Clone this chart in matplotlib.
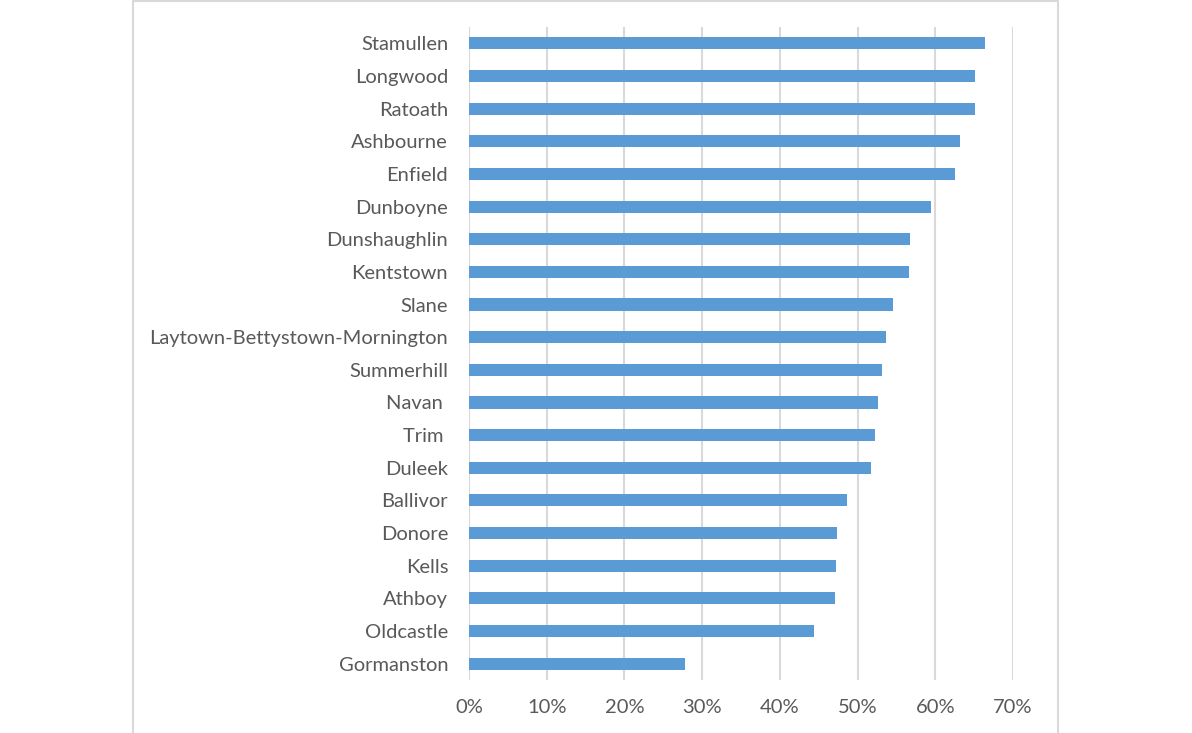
import matplotlib.pyplot as plt
from matplotlib.patches import Rectangle
from matplotlib.ticker import FuncFormatter

# towns, top to bottom as shown in the chart
towns = ['Stamullen', 'Longwood', 'Ratoath', 'Ashbourne', 'Enfield', 'Dunboyne',
         'Dunshaughlin', 'Kentstown', 'Slane', 'Laytown-Bettystown-Mornington',
         'Summerhill', 'Navan ', 'Trim ', 'Duleek', 'Ballivor', 'Donore',
         'Kells', 'Athboy', 'Oldcastle', 'Gormanston']
share = [0.664, 0.651, 0.651, 0.632, 0.625, 0.594,
         0.567, 0.566, 0.546, 0.537,
         0.531, 0.526, 0.522, 0.517, 0.486, 0.474,
         0.472, 0.471, 0.444, 0.278]

plt.rcParams['font.family'] = ['Lato', 'DejaVu Sans']
text_col = '#595959'
grid_col = '#d9d9d9'

fig = plt.figure(figsize=(11.92, 7.33), dpi=100)
ax = fig.add_axes([469 / 1192, 1 - 680 / 733, (1013 - 469) / 1192, (680 - 27) / 733])

# outer chart border (runs off the bottom of the image)
fig.patches.append(Rectangle((133 / 1192, -0.05), (1058 - 133) / 1192, 1.05 - 1 / 733,
                             transform=fig.transFigure, fill=False,
                             edgecolor=grid_col, linewidth=1.5))

pos = list(range(len(towns)))[::-1]
ax.barh(pos, share, height=0.37, color='#5b9bd5', zorder=3)

ax.set_xlim(0, 0.7)
ax.set_ylim(-0.5, len(towns) - 0.5)
ax.set_xticks([i / 10 for i in range(8)])
ax.xaxis.set_major_formatter(FuncFormatter(lambda v, p: f'{v * 100:.0f}%'))
ax.set_yticks(pos)
ax.set_yticklabels(towns)

ax.grid(axis='x', color=grid_col, linewidth=1.5, zorder=0)
for s in ax.spines.values():
    s.set_visible(False)
ax.tick_params(axis='both', length=0, labelsize=14.5, colors=text_col)
ax.tick_params(axis='y', pad=15)
ax.tick_params(axis='x', pad=14)

fig.savefig('out.png', dpi=100)
